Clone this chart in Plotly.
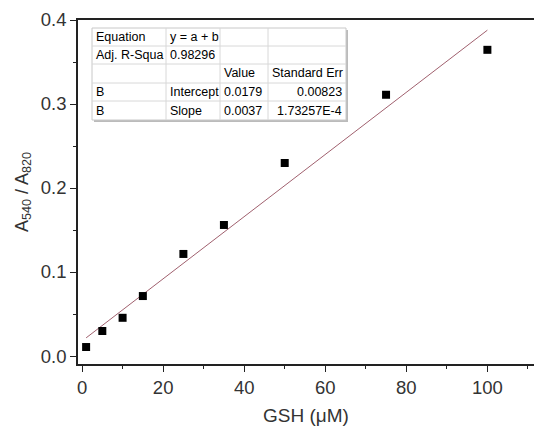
import plotly.graph_objects as go

gsh = [1, 5, 10, 15, 25, 35, 50, 75, 100]
ratio = [0.0107, 0.0298, 0.0455, 0.0714, 0.1215, 0.1560, 0.2298, 0.3110, 0.3645]
intercept = 0.0179
slope = 0.0037
fit_x = [1, 100]
fit_y = [intercept + slope * v for v in fit_x]

table_rows = [
    ["Equation", "y = a + b", "", ""],
    ["Adj. R-Squa", "0.98296", "", ""],
    ["", "", "Value", "Standard Err"],
    ["B", "Intercept", "0.0179", "0.00823"],
    ["B", "Slope", "0.0037", "1.73257E-4"],
]

W, H = 534, 427
ML, MR, MT, MB = 78, 0, 20, 63
PW, PH = W - ML - MR, H - MT - MB

def px(x):
    return (x - ML) / PW

def py(y):
    return 1 - (y - MT) / PH

FONT = "Arial, Liberation Sans, sans-serif"

fig = go.Figure()
fig.add_trace(go.Scatter(x=fit_x, y=fit_y, mode="lines",
                         line=dict(color="#A0606E", width=1), hoverinfo="skip"))
fig.add_trace(go.Scatter(x=gsh, y=ratio, mode="markers",
                         marker=dict(symbol="square", size=8, color="black")))

shapes = []
annotations = []
col_x = [92, 166, 220, 268, 346]
row_y = [28, 46, 64, 83, 101, 120]
shapes.append(dict(type="rect", xref="paper", yref="paper",
                   x0=px(col_x[0] + 2), x1=px(col_x[-1] + 2),
                   y0=py(row_y[-1] + 2), y1=py(row_y[0] + 2),
                   line=dict(width=0), fillcolor="#BBBBBB", layer="above"))
shapes.append(dict(type="rect", xref="paper", yref="paper",
                   x0=px(col_x[0]), x1=px(col_x[-1]),
                   y0=py(row_y[-1]), y1=py(row_y[0]),
                   line=dict(width=1, color="#C8C8C8"), fillcolor="white", layer="above"))
for yy in row_y[1:-1]:
    shapes.append(dict(type="line", xref="paper", yref="paper",
                       x0=px(col_x[0]), x1=px(col_x[-1]), y0=py(yy), y1=py(yy),
                       line=dict(width=1, color="#D8D8D8"), layer="above"))
for xx in col_x[1:-1]:
    shapes.append(dict(type="line", xref="paper", yref="paper",
                       x0=px(xx), x1=px(xx), y0=py(row_y[0]), y1=py(row_y[-1]),
                       line=dict(width=1, color="#D8D8D8"), layer="above"))
for r, row in enumerate(table_rows):
    yc = (row_y[r] + row_y[r + 1]) / 2
    for c, txt in enumerate(row):
        if not txt:
            continue
        right = (c == 3 and r >= 3)
        annotations.append(dict(text=txt, xref="paper", yref="paper",
                                x=px(col_x[c + 1] - 2) if right else px(col_x[c] + 2),
                                y=py(yc), xanchor="right" if right else "left",
                                yanchor="middle", showarrow=False,
                                font=dict(family=FONT, size=12.5, color="black")))

fig.update_layout(
    width=W, height=H,
    margin=dict(l=ML, r=MR, t=MT, b=MB),
    plot_bgcolor="white", paper_bgcolor="white",
    showlegend=False,
    font=dict(family=FONT, color="#333333"),
    shapes=shapes, annotations=annotations,
    xaxis=dict(range=[-1, 111.5], tickvals=[0, 20, 40, 60, 80, 100],
               ticks="outside", ticklen=6, tickwidth=1.2, tickcolor="#222",
               showline=True, linecolor="#222", linewidth=1.5, mirror=True,
               showgrid=False, zeroline=False,
               tickfont=dict(size=18.5, color="#333"),
               minor=dict(tickvals=[10, 30, 50, 70, 90, 110], ticks="outside",
                          ticklen=3, tickcolor="#222", showgrid=False),
               title=dict(text="GSH (μM)", font=dict(size=19, color="#333"), standoff=12)),
    yaxis=dict(range=[-0.0095, 0.4], tickvals=[0.0, 0.1, 0.2, 0.3, 0.4],
               tickformat=".1f",
               ticks="outside", ticklen=6, tickwidth=1.2, tickcolor="#222",
               showline=True, linecolor="#222", linewidth=1.5,
               showgrid=False, zeroline=False,
               tickfont=dict(size=18.5, color="#333"),
               minor=dict(tickvals=[0.05, 0.15, 0.25, 0.35], ticks="outside",
                          ticklen=3, tickcolor="#222", showgrid=False),
               title=dict(text="A<sub>540</sub> / A<sub>820</sub>",
                          font=dict(size=18, color="#333"), standoff=8)),
)

fig.write_html("out.html")
